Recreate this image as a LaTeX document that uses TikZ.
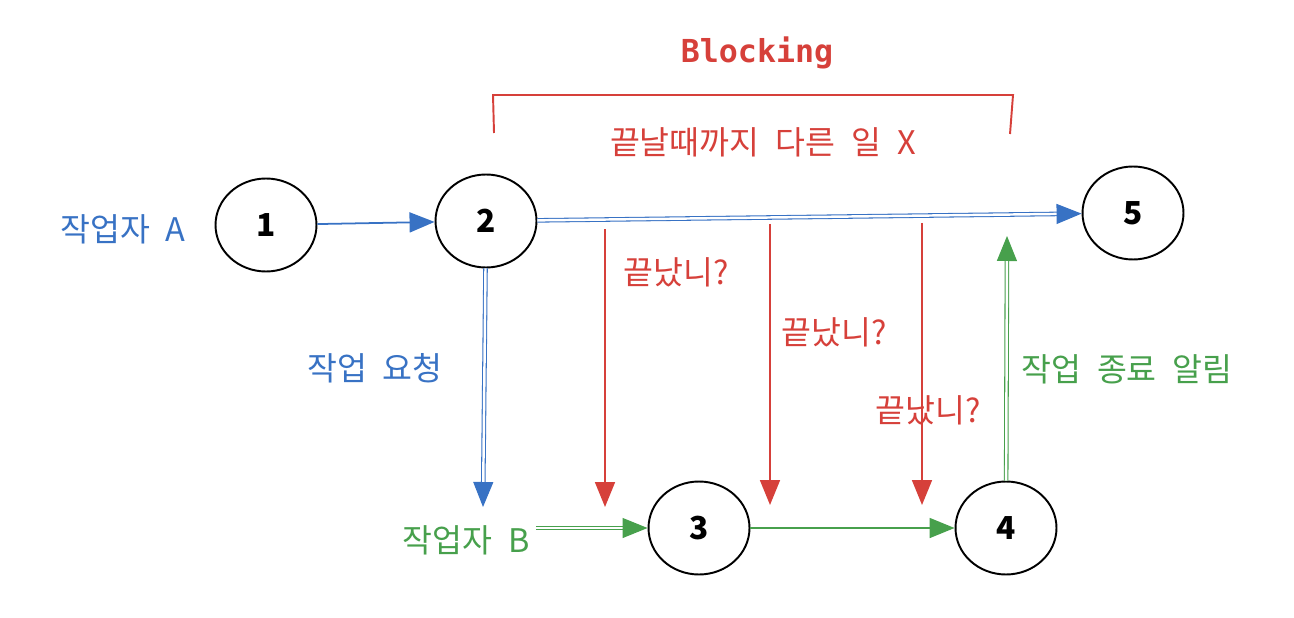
\documentclass[tikz,border=0pt]{standalone}
\usepackage{fontspec}
\setmainfont[WordSpace=2.2]{Noto Sans CJK KR}
\newfontfamily\blkfont{DejaVu Sans Mono}
\usetikzlibrary{arrows.meta,shapes.geometric}
\definecolor{xblue}{HTML}{3872C4}
\definecolor{xred}{HTML}{D6403A}
\definecolor{xgreen}{HTML}{47A04C}
\begin{document}
\begin{tikzpicture}[x=0.02cm, y=-0.02cm]
\useasboundingbox (0,0) rectangle (1294,618);
\tikzset{every node/.style={ellipse, draw, line width=1.1pt, minimum width=2.02cm, minimum height=1.86cm, inner sep=0pt, font=\fontsize{18}{20}\selectfont\bfseries}}
\node (n1) at (266, 225) {1};
\node (n2) at (486, 221) {2};
\node (n3) at (699, 528) {3};
\node (n4) at (1006, 528) {4};
\node (n5) at (1133, 213) {5};

\tikzset{every node/.style={font=\fontsize{18.5}{20}\selectfont}}
\node[text=xblue] (wa) at (123, 229) {작업자 A};
\node[text=xblue] (req) at (375, 368) {작업 요청};
\node[text=xgreen] (wb) at (466, 540) {작업자 B};
\node[text=xgreen] (done) at (1127, 369) {작업 종료 알림};
\node[text=xred, font=\fontsize{18}{20}\selectfont\blkfont\bfseries] (blk) at (757, 53) {Blocking};
\node[text=xred] (wait) at (763, 142) {끝날때까지 다른 일 X};
\node[text=xred] (q1) at (676, 272) {끝났니?};
\node[text=xred] (q2) at (834, 332) {끝났니?};
\node[text=xred] (q3) at (928, 410) {끝났니?};

\coordinate (c2dn) at (483, 507);
\coordinate (c4up) at (1007, 236);
\coordinate (r1a) at (605, 229);
\coordinate (r1b) at (605, 507);
\coordinate (r2a) at (770, 224);
\coordinate (r2b) at (770, 505);
\coordinate (r3a) at (922, 223);
\coordinate (r3b) at (922, 505);
\coordinate (bl) at (494, 133);
\coordinate (bl0) at (493, 95);
\coordinate (br0) at (1013, 95);
\coordinate (br) at (1010, 134);

\tikzset{mystyle/.style={-{Triangle[length=0.5cm,width=0.4cm]}, line width=1pt}}
\path (n1) edge [mystyle, xblue] (n2);
\path (n3) edge [mystyle, xgreen] (n4);
\path (r1a) edge [mystyle, xred] (r1b);
\path (r2a) edge [mystyle, xred] (r2b);
\path (r3a) edge [mystyle, xred] (r3b);

\tikzset{mystyle/.style={-{Triangle[length=0.5cm,width=0.4cm]}, line width=0.6pt, double, double distance=1.4pt}}
\path (n2) edge [mystyle, xblue] (n5);
\path (n2) edge [mystyle, xblue] (c2dn);
\path (wb.east |- n3.west) edge [mystyle, xgreen] (n3.west);
\path (n4) edge [mystyle, xgreen] (c4up);

\draw [xred, line width=1.1pt] (bl) -- (bl0) -- (br0) -- (br);
\end{tikzpicture}
\end{document}
